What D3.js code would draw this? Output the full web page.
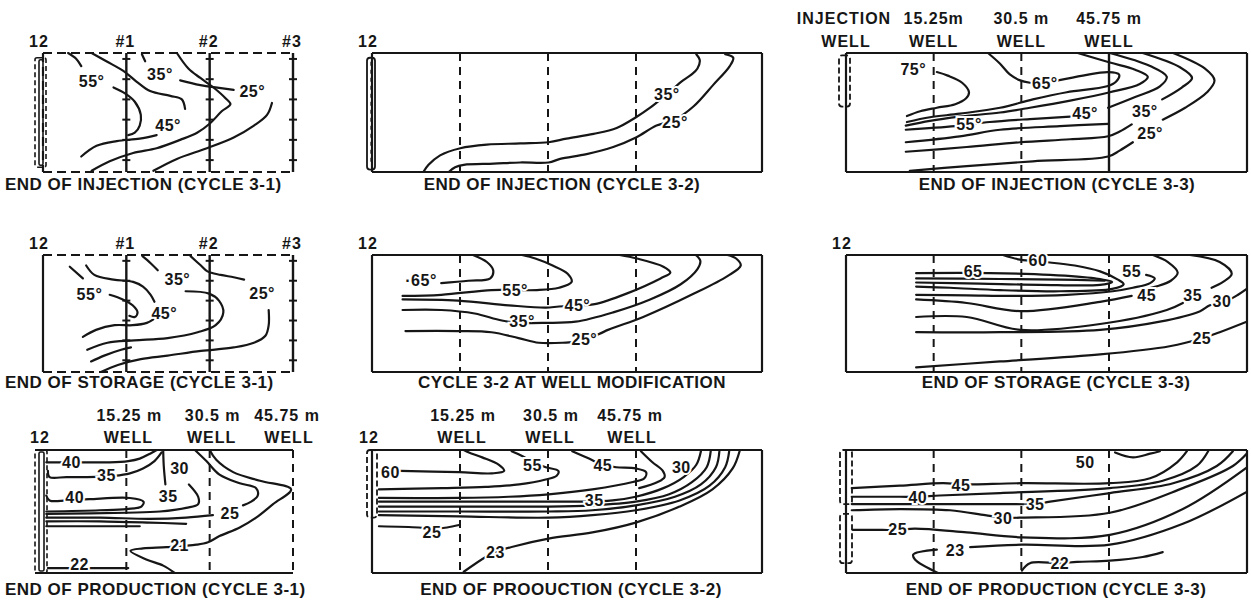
<!DOCTYPE html>
<html>
<head>
<meta charset="utf-8">
<script src="https://cdn.jsdelivr.net/npm/d3@7"></script>
<style>
  body { margin: 0; background: #fff; }
  svg text { font-family: "Liberation Sans", Arial, sans-serif; font-weight: bold; fill: #161616; }
</style>
</head>
<body>
<svg id="fig" width="1251" height="602"></svg>
<script>
// ---- Well layout (distance from the injection well, m) and header text ----
const wellDistancesM = [15.25, 30.5, 45.75];
const wellNumbers = ["#1", "#2", "#3"];
const wellDistanceText = ["15.25 m", "30.5 m", "45.75 m"];
const wellDistanceTextTop = ["15.25m", "30.5 m", "45.75 m"];
const wellWord = "WELL";
const injectionWord = "INJECTION";
const injectionWellTag = "12";
const wellTickDepths = [0.05, 0.22, 0.39, 0.56, 0.73, 0.9];

const panelTitles = [
  "END OF INJECTION (CYCLE 3-1)", "END OF INJECTION (CYCLE 3-2)", "END OF INJECTION (CYCLE 3-3)",
  "END OF STORAGE (CYCLE 3-1)", "CYCLE 3-2 AT WELL MODIFICATION", "END OF STORAGE (CYCLE 3-3)",
  "END OF PRODUCTION (CYCLE 3-1)", "END OF PROOUCTION (CYCLE 3-2)", "END OF PRODUCTION (CYCLE 3-3)"
];

// ---- Isotherms: [distance m, relative depth 0 = top .. 1 = bottom] ----
const inj31Contours = [
  [[4.6,0],[6.1,0.05],[7.0,0.11]],
  [[8.9,0],[11.6,0.07],[14.7,0.15],[17.1,0.24],[19.6,0.32],[23.3,0.36],[25.4,0.39],[26.0,0.47]],
  [[12.9,0.29],[15.0,0.34],[16.8,0.41],[17.9,0.52],[17.7,0.61],[16.8,0.67],[15.6,0.69]],
  [[18.1,0.01],[18.7,0.07]],
  [[24.5,0],[26.6,0.13],[28.8,0.21],[31.2,0.29],[33.4,0.38],[34.3,0.43],[32.7,0.49],[30.6,0.59],[28.2,0.67],[25.1,0.73],[20.8,0.80],[16.5,0.84],[12.2,0.91],[8.9,0.99]],
  [[7.0,0.87],[9.8,0.78],[13.5,0.74],[17.7,0.72],[20.8,0.69]],
  [[25.1,0.23],[28.8,0.27],[34.9,0.31]],
  [[20.2,0.99],[24.5,0.89],[30.0,0.80],[34.9,0.71],[38.6,0.61],[41.0,0.52],[41.9,0.42]]
];
const inj31Labels = [["55°",8.9,0.24],["35°",21.4,0.18],["45°",22.9,0.61],["25°",38.3,0.32]];

const inj32Contours = [
  [[56.2,0.01],[56.8,0.06],[56.4,0.13],[55.4,0.18],[53.9,0.23],[51.0,0.35],[48.2,0.46],[45.75,0.54],[42.4,0.63],[38.4,0.68],[33.7,0.72],[30.6,0.75],[25.7,0.76],[19.9,0.77],[15.3,0.80],[11.8,0.86],[9.8,0.94],[8.9,1.0]],
  [[61.2,0.01],[62.6,0.04],[62.0,0.11],[59.1,0.27],[55.7,0.45],[52.5,0.56],[49.3,0.61],[45.75,0.71],[41.8,0.79],[37.2,0.85],[32.6,0.89],[30.6,0.92],[25.7,0.92],[21.1,0.93],[15.9,0.94],[14.4,0.96],[13.3,1.0]]
];
const inj32Labels = [["35°",51.1,0.35],["25°",52.5,0.58]];

const inj33Contours = [
  [[15.8,0.16],[17.7,0.19],[20.2,0.25],[21.4,0.33],[20.9,0.38],[19.0,0.43],[15.8,0.46],[12.9,0.49],[10.6,0.53]],
  [[24.7,0],[26.8,0.09],[28.5,0.18],[30.3,0.23],[32.0,0.25]],
  [[36.9,0.23],[41.2,0.19],[45.6,0.16],[47.5,0.18],[47.0,0.24],[45.4,0.28],[38.4,0.33],[32.5,0.39],[26.8,0.46],[19.8,0.51],[14.6,0.54],[10.6,0.58]],
  [[40.3,0],[45.9,0.08],[50.3,0.14],[52.5,0.2],[51.1,0.26],[45.9,0.33],[39.0,0.40],[32.0,0.46],[26.8,0.50],[19.8,0.535],[14.6,0.57],[10.4,0.61]],
  [[10.4,0.645],[19.0,0.615],[25.0,0.58],[32.0,0.555],[39.0,0.535]],
  [[45.9,0],[52.9,0.11],[55.8,0.2],[54.6,0.28],[50.3,0.37],[45.6,0.46]],
  [[51.6,0],[58.1,0.12],[60.2,0.21],[58.4,0.29],[55.0,0.39]],
  [[56.9,0],[62.4,0.13],[64.1,0.23],[62.8,0.33],[59.0,0.46],[55.1,0.56]],
  [[10.4,0.75],[19.8,0.70],[26.8,0.645],[37.2,0.615],[45.6,0.595]],
  [[10.4,0.83],[21.0,0.79],[30.3,0.75],[39.0,0.725],[45.6,0.70],[47.6,0.66],[49.7,0.60]],
  [[11.1,0.99],[21.0,0.95],[32.5,0.91],[45.6,0.87],[47.6,0.82],[49.9,0.75]]
];
const inj33Labels = [["75°",11.7,0.14],["65°",34.6,0.26],["55°",21.4,0.6],["45°",41.6,0.51],["35°",52.0,0.49],["25°",52.9,0.68]];

const sto31Contours = [
  [[4.9,0.10],[7.3,0.20]],
  [[7.9,0.09],[9.4,0.17],[12.9,0.21],[16.5,0.23],[18.3,0.27],[19.7,0.34],[20.4,0.40]],
  [[12.2,0.34],[14.6,0.38],[16.4,0.43],[17.3,0.49],[16.8,0.53],[15.8,0.52]],
  [[18.2,0.01],[19.7,0.07],[21.0,0.13]],
  [[27.0,0.01],[28.9,0.09],[30.1,0.14],[32.5,0.17],[34.9,0.19],[36.8,0.21]],
  [[7.3,0.70],[9.7,0.64],[13.1,0.60],[16.4,0.60],[19.0,0.58],[20.2,0.55]],
  [[8.1,0.81],[11.8,0.75],[16.7,0.73],[22.8,0.71],[28.3,0.66],[31.6,0.60],[33.0,0.49],[32.2,0.39],[30.4,0.33],[26.1,0.31]],
  [[8.8,0.91],[11.2,0.86],[14.3,0.81],[16.1,0.79]],
  [[10.6,1.0],[13.7,0.94],[17.9,0.89],[22.8,0.86],[28.9,0.82],[34.9,0.79],[38.6,0.75],[40.7,0.69],[41.3,0.60],[41.3,0.47]]
];
const sto31Labels = [["55°",8.5,0.34],["35°",24.6,0.21],["45°",22.2,0.50],["25°",40.1,0.33]];

const mod32Contours = [
  [[12.0,0.24],[16.7,0.22],[20.5,0.20],[21.0,0.13],[19.9,0.06],[17.5,0]],
  [[5.3,0.35],[12.0,0.34],[20.7,0.30],[24.8,0.30],[28.6,0.30],[32.4,0.28],[34.6,0.23],[33.9,0.16],[31.3,0.09],[28.3,0.03],[26.0,0]],
  [[5.3,0.38],[14.9,0.39],[23.7,0.43],[30.1,0.45],[32.4,0.44],[35.6,0.43],[38.6,0.42],[44.1,0.33],[50.0,0.20],[51.7,0.15],[50.5,0.10],[45.9,0.03],[42.9,0]],
  [[5.3,0.47],[12.0,0.47],[17.8,0.50],[22.5,0.56],[26.0,0.58],[30.1,0.58],[35.3,0.57],[41.8,0.49],[48.2,0.38],[53.5,0.25],[56.4,0.12],[56.9,0.05],[56.1,0]],
  [[5.8,0.65],[14.9,0.65],[20.7,0.66],[25.4,0.71],[28.9,0.75],[33.0,0.75],[36.8,0.73],[40.9,0.64],[47.0,0.53],[55.8,0.33],[61.6,0.18],[63.9,0.09],[63.1,0.03],[61.6,0]]
];
const mod32Labels = [["·65°",8.5,0.22],["55°",24.8,0.30],["45°",35.6,0.43],["35°",26.0,0.57],["25°",36.8,0.72]];

const sto33Contours = [
  [[12.2,0.155],[25.0,0.155],[35.5,0.17],[43.3,0.20],[46.3,0.23],[44.2,0.255],[33.7,0.255],[23.3,0.245],[12.2,0.235]],
  [[12.2,0.20],[26.8,0.205],[37.2,0.21],[45.0,0.22]],
  [[27.3,0],[30.3,0.04],[34.6,0.06],[39.8,0.09],[44.2,0.14],[47.3,0.21],[48.3,0.25],[46.3,0.29],[37.2,0.31],[26.8,0.30],[18.1,0.28],[12.2,0.27]],
  [[52.2,0.17],[53.7,0.20],[52.9,0.24],[49.9,0.28],[46.4,0.31],[38.4,0.34],[29.7,0.35],[21.0,0.345],[12.2,0.34]],
  [[12.2,0.38],[21.0,0.41],[30.3,0.48],[44.2,0.40],[49.7,0.35]],
  [[53.4,0],[56.0,0.06],[57.7,0.15],[56.5,0.22],[53.9,0.27],[51.5,0.30]],
  [[12.2,0.53],[21.0,0.53],[30.3,0.64],[44.2,0.59],[55.8,0.47],[58.6,0.41]],
  [[59.8,0],[65.0,0.06],[67.1,0.16],[65.6,0.23],[63.6,0.28]],
  [[12.2,0.66],[26.8,0.66],[44.2,0.64],[54.6,0.57],[61.6,0.48],[63.3,0.43],[65.9,0.40],[68.2,0.34],[69.7,0.29]],
  [[12.2,0.96],[26.8,0.91],[44.2,0.85],[56.3,0.78],[62.1,0.71],[65.0,0.66],[69.7,0.57]]
];
const sto33Labels = [["65",22.1,0.145],["60",33.4,0.05],["55",49.7,0.14],["45",52.3,0.35],["35",60.3,0.35],["30",65.4,0.40],["25",61.9,0.71]];

const pro31Contours = [
  [[0.6,0.10],[2.7,0.10],[7.6,0.10],[12.2,0.10],[15.6,0.09],[17.7,0.07],[19.6,0.03],[20.8,0]],
  [[0.9,0.17],[1.2,0.22],[4.3,0.22],[7.9,0.22],[13.1,0.21],[15.9,0.19],[18.3,0.15],[20.4,0.09],[21.7,0.02]],
  [[22.0,0.01],[22.1,0.13],[22.4,0.28]],
  [[27.8,0],[29.9,0.09],[32.3,0.20],[36.0,0.27],[39.0,0.31],[39.3,0.37],[38.1,0.42],[36.6,0.45]],
  [[30.5,0],[31.7,0.08],[34.8,0.18],[39.7,0.25],[45.4,0.32],[42.1,0.44],[39.0,0.55],[36.0,0.63],[32.3,0.70],[30.2,0.75],[28.1,0.77],[22.6,0.79],[18.3,0.80],[16.0,0.82],[18.9,0.89],[22.0,0.94],[24.1,1.0]],
  [[0.6,0.37],[1.2,0.41],[4.3,0.41],[8.5,0.40],[15.9,0.39],[18.4,0.42],[18.0,0.46],[15.3,0.48],[10.4,0.49],[0.6,0.50]],
  [[26.7,0.28],[28.4,0.38],[28.4,0.44],[26.2,0.47],[21.4,0.50],[15.3,0.51],[0.6,0.52]],
  [[0.6,0.55],[10.4,0.55],[19.5,0.56],[26.2,0.55],[31.1,0.53]],
  [[0.6,0.58],[10.4,0.58],[19.5,0.59],[26.2,0.60]],
  [[0.6,0.62],[10.4,0.62],[17.7,0.62]],
  [[0.9,0.96],[4.3,0.96],[9.2,0.96],[15.6,0.96]]
];
const pro31Labels = [["40",5.2,0.10],["35",11.6,0.21],["30",25.0,0.15],["40",5.8,0.39],["35",22.9,0.38],["25",34.2,0.52],["21",25.0,0.78],["22",6.7,0.93]];

const pro32Contours = [
  [[4.9,0.17],[15.1,0.18],[20.8,0.19],[22.9,0.17],[22.0,0.12],[19.1,0.06],[16.8,0.02],[15.9,0]],
  [[24.2,0.01],[26.1,0.05],[28.0,0.10],[30.1,0.14],[32.3,0.17],[32.0,0.21],[30.1,0.24],[25.5,0.28],[19.7,0.30],[12.2,0.31],[1.2,0.32]],
  [[34.7,0.01],[37.6,0.07],[40.0,0.12],[42.3,0.14],[45.7,0.15],[47.5,0.18],[47.2,0.23],[45.2,0.26],[38.2,0.32],[30.6,0.36],[23.7,0.38],[15.1,0.39],[1.2,0.39]],
  [[46.6,0.01],[48.6,0.10],[50.4,0.17],[50.7,0.22],[49.5,0.26],[46.3,0.31]],
  [[1.2,0.42],[15.1,0.42],[30.6,0.42],[35.3,0.42],[41.7,0.41],[45.7,0.38],[50.5,0.31],[54.0,0.22],[56.2,0.12],[57.0,0.01]],
  [[1.2,0.46],[15.1,0.46],[30.6,0.46],[38.2,0.45],[45.7,0.42],[51.5,0.36],[55.5,0.26],[58.0,0.14],[58.7,0.01]],
  [[1.2,0.50],[15.1,0.50],[30.6,0.50],[38.2,0.49],[45.7,0.45],[52.5,0.38],[57.0,0.28],[59.6,0.14],[60.2,0.01]],
  [[1.2,0.53],[15.1,0.54],[30.6,0.55],[38.2,0.53],[45.7,0.49],[53.3,0.41],[58.5,0.29],[61.2,0.14],[61.9,0.01]],
  [[63.7,0.01],[62.5,0.15],[59.0,0.32],[53.3,0.46],[45.7,0.59],[38.2,0.67],[30.6,0.72],[24.9,0.78],[21.4,0.83],[19.7,0.87],[15.9,0.99]],
  [[1.2,0.62],[8.1,0.63],[10.4,0.64],[13.0,0.63],[15.1,0.61]]
];
const pro32Labels = [["60",3.2,0.18],["55",27.8,0.13],["45",40.0,0.13],["30",53.6,0.14],["35",38.5,0.41],["25",10.4,0.67],["23",21.4,0.83]];

const pro33Contours = [
  [[1.0,0.31],[9.4,0.29],[16.9,0.27],[20.2,0.28],[22.4,0.28],[30.6,0.27],[45.9,0.27],[52.9,0.23],[57.6,0.10],[59.3,0.01]],
  [[1.0,0.38],[9.4,0.38],[12.5,0.38],[16.3,0.37],[26.8,0.35],[45.9,0.31],[55.1,0.25],[61.0,0.13],[63.0,0.01]],
  [[1.0,0.44],[9.4,0.44],[29.4,0.44],[32.9,0.44],[35.5,0.42],[45.9,0.35],[56.9,0.27],[64.5,0.13],[67.3,0.01]],
  [[1.0,0.49],[9.4,0.48],[18.1,0.49],[24.2,0.53],[27.3,0.55],[30.6,0.55],[45.9,0.51],[58.6,0.31],[67.3,0.13],[70.1,0.01]],
  [[1.2,0.65],[6.3,0.65],[9.0,0.65],[12.0,0.64],[21.0,0.67],[30.6,0.71],[45.9,0.69],[58.6,0.48],[70.1,0.13]],
  [[21.6,0.79],[30.6,0.77],[45.9,0.77],[58.6,0.60],[70.1,0.33]],
  [[15.8,0.81],[11.7,0.85],[12.0,0.89],[16.0,1.0]],
  [[30.6,0.98],[32.0,0.92],[37.2,0.92],[40.2,0.91],[45.9,0.90],[51.6,0.87],[55.1,0.83]],
  [[46.8,0.02],[49.9,0.06],[52.9,0.03],[54.6,0.01]]
];
const pro33Labels = [["50",41.6,0.10],["45",20.0,0.29],["40",12.5,0.39],["35",32.9,0.44],["30",27.3,0.56],["25",9.0,0.65],["23",19.0,0.82],["22",37.2,0.92]];

// ---- Page layout (pixels) ----
const columns = [
  {left: 43, well3: 293, right: 293},
  {left: 372, well3: 636, right: 762},
  {left: 846, well3: 1109, right: 1247}
];
const rows = [
  {top: 53, bottom: 172, title: 190},
  {top: 255, bottom: 372, title: 388},
  {top: 450, bottom: 573, title: 595}
];

const panels = [
  {col: 0, row: 0, title: panelTitles[0], titleX: 5, titleAnchor: "start", lines: inj31Contours, labels: inj31Labels,
   frame: {top: "dashed", bottom: "dashed", left: "dashed", right: null, wells: ["solid", "solid", "solid"], ticks: true},
   icon: {dx: [-8, 3], spans: [[0.04, 0.96]], kind: "double"}, header: "numbers"},
  {col: 1, row: 0, title: panelTitles[1], titleX: 562, lines: inj32Contours, labels: inj32Labels,
   frame: {top: "solid", bottom: "solid", left: "solid", right: "solid", wells: ["dashed", "dashed", "dashed"]},
   icon: {dx: [-5, 3], spans: [[0.04, 0.98]], kind: "solid"}, header: "tag"},
  {col: 2, row: 0, title: panelTitles[2], titleX: 1057, lines: inj33Contours, labels: inj33Labels,
   frame: {top: "solid", bottom: "solid", left: "solid", right: "solid", wells: ["dashed", "dashed", "solid"]},
   icon: {dx: [-7, 4], spans: [[0.02, 0.45]], kind: "dashed"}, header: "injection"},
  {col: 0, row: 1, title: panelTitles[3], titleX: 5, titleAnchor: "start", lines: sto31Contours, labels: sto31Labels,
   frame: {top: "dashed", bottom: "dashed", left: "solid", right: null, wells: ["solid", "solid", "solid"], ticks: true},
   icon: null, header: "numbers"},
  {col: 1, row: 1, title: panelTitles[4], titleX: 572, lines: mod32Contours, labels: mod32Labels,
   frame: {top: "solid", bottom: "solid", left: "solid", right: "solid", wells: ["dashed", "dashed", "dashed"]},
   icon: null, header: "tag"},
  {col: 2, row: 1, title: panelTitles[5], titleX: 1056, lines: sto33Contours, labels: sto33Labels,
   frame: {top: "solid", bottom: "solid", left: "solid", right: "solid", wells: ["dashed", "dashed", "dashed"]},
   icon: null, header: "tag"},
  {col: 0, row: 2, title: panelTitles[6], titleX: 5, titleAnchor: "start", lines: pro31Contours, labels: pro31Labels,
   frame: {top: "solid", bottom: "solid", left: null, right: null, wells: ["dashed", "dashed", "dashed"]},
   icon: {dx: [-8, 4], spans: [[0, 1]], kind: "double"}, header: "distances"},
  {col: 1, row: 2, title: panelTitles[7], titleX: 571, lines: pro32Contours, labels: pro32Labels,
   frame: {top: "solid", bottom: "solid", left: "solid", right: "solid", wells: ["dashed", "dashed", "dashed"]},
   icon: {dx: [-5, 5], spans: [[0, 0.55]], kind: "dashed"}, header: "distances"},
  {col: 2, row: 2, title: panelTitles[8], titleX: 1056, lines: pro33Contours, labels: pro33Labels,
   frame: {top: "solid", bottom: "solid", left: "solid", right: "solid", wells: ["dashed", "dashed", "dashed"]},
   icon: {dx: [-6, 6], spans: [[0, 0.44], [0.52, 0.92]], kind: "dashed"}, header: null}
];

const INK = "#161616";
const svg = d3.select("#fig");
const dashFor = s => s === "dashed" ? "9,5" : null;

panels.forEach((p, i) => {
  const c = columns[p.col], r = rows[p.row];
  const x = d3.scaleLinear().domain([0, wellDistancesM[2]]).range([c.left, c.well3]);
  const y = d3.scaleLinear().domain([0, 1]).range([r.top, r.bottom]);
  const xMax = x.invert(c.right);
  const g = svg.append("g");

  // clip region for the isotherms
  const clipId = "clip" + i;
  svg.append("clipPath").attr("id", clipId).append("rect")
    .attr("x", x(0)).attr("y", y(0) - 1)
    .attr("width", x(xMax) - x(0)).attr("height", y(1) - y(0) + 2);

  // frame
  const edge = (x1, y1, x2, y2, style, w) => {
    if (!style) return;
    g.append("line").attr("x1", x1).attr("y1", y1).attr("x2", x2).attr("y2", y2)
      .attr("stroke", INK).attr("stroke-width", w || 2.2)
      .attr("stroke-dasharray", dashFor(style));
  };
  const leftEdge = p.icon && !p.frame.left ? x(0) + p.icon.dx[0] : x(0);
  edge(leftEdge, y(0), x(xMax), y(0), p.frame.top);
  edge(leftEdge, y(1), x(xMax), y(1), p.frame.bottom);
  edge(x(0), y(0), x(0), y(1), p.frame.left);
  edge(x(xMax), y(0), x(xMax), y(1), p.frame.right);

  // observation wells
  wellDistancesM.forEach((d, k) => {
    const st = p.frame.wells[k];
    g.append("line").attr("x1", x(d)).attr("x2", x(d)).attr("y1", y(0)).attr("y2", y(1))
      .attr("stroke", INK).attr("stroke-width", st === "solid" ? 2.4 : 2)
      .attr("stroke-dasharray", st === "dashed" ? "8,6" : null);
    if (p.frame.ticks) {
      wellTickDepths.forEach(t => {
        g.append("line").attr("x1", x(d) - 4).attr("x2", x(d) + 4)
          .attr("y1", y(t)).attr("y2", y(t))
          .attr("stroke", INK).attr("stroke-width", 2);
      });
    }
  });

  // injection well
  if (p.icon) {
    const ix0 = x(0) + p.icon.dx[0], ix1 = x(0) + p.icon.dx[1];
    p.icon.spans.forEach(s => {
      const y0 = y(s[0]), y1 = y(s[1]);
      if (p.icon.kind === "double") {
        g.append("rect").attr("x", ix0).attr("y", y0).attr("width", ix1 - ix0).attr("height", y1 - y0)
          .attr("rx", 2).attr("fill", "none").attr("stroke", INK).attr("stroke-width", 1.6)
          .attr("stroke-dasharray", "5,3");
        g.append("rect").attr("x", ix0 + 4).attr("y", y0 + 2).attr("width", ix1 - ix0 - 7).attr("height", y1 - y0 - 4)
          .attr("rx", 1.5).attr("fill", "none").attr("stroke", INK).attr("stroke-width", 1.6);
      } else if (p.icon.kind === "solid") {
        g.append("rect").attr("x", ix0).attr("y", y0).attr("width", ix1 - ix0).attr("height", y1 - y0)
          .attr("rx", 3).attr("fill", "none").attr("stroke", INK).attr("stroke-width", 1.8);
        g.append("line").attr("x1", (ix0 + ix1) / 2).attr("x2", (ix0 + ix1) / 2)
          .attr("y1", y0 + 4).attr("y2", y1 - 4)
          .attr("stroke", INK).attr("stroke-width", 1.2).attr("stroke-dasharray", "4,4");
      } else {
        g.append("rect").attr("x", ix0).attr("y", y0).attr("width", ix1 - ix0).attr("height", y1 - y0)
          .attr("rx", 3).attr("fill", "none").attr("stroke", INK).attr("stroke-width", 1.8)
          .attr("stroke-dasharray", "6,3");
      }
    });
  }

  // isotherms
  const line = d3.line().x(d => x(d[0])).y(d => y(d[1])).curve(d3.curveCatmullRom.alpha(0.5));
  g.append("g").attr("clip-path", `url(#${clipId})`)
    .selectAll("path").data(p.lines).join("path")
    .attr("d", line).attr("fill", "none").attr("stroke", INK)
    .attr("stroke-width", 2.2).attr("stroke-linecap", "round").attr("stroke-linejoin", "round");

  // isotherm values
  g.selectAll("text.val").data(p.labels).join("text").attr("class", "val")
    .attr("x", d => x(d[1])).attr("y", d => y(d[2]))
    .attr("text-anchor", "middle").attr("dominant-baseline", "central")
    .attr("font-size", 16).attr("letter-spacing", 0.5)
    .attr("stroke", "#fff").attr("stroke-width", 4).attr("paint-order", "stroke")
    .text(d => d[0]);

  // headers
  const hdr = (txt, hx, hy) => g.append("text").attr("x", hx).attr("y", hy)
    .attr("text-anchor", "middle").attr("font-size", 16).attr("letter-spacing", 1).text(txt);
  const tagY = r.top - 6;
  if (p.header === "numbers") {
    hdr(injectionWellTag, x(0) - 4, tagY);
    wellDistancesM.forEach((d, k) => hdr(wellNumbers[k], x(d) - 1, tagY));
  } else if (p.header === "tag") {
    hdr(injectionWellTag, x(0) - 4, tagY);
  } else if (p.header === "distances") {
    hdr(injectionWellTag, x(0) - 3, r.top - 7);
    wellDistancesM.forEach((d, k) => {
      hdr(wellDistanceText[k], x(d) + (k === 2 ? -6 : 3), r.top - 29);
      hdr(wellWord, x(d) + (k === 2 ? -4 : 2), r.top - 7);
    });
  } else if (p.header === "injection") {
    hdr(injectionWord, x(0) - 2, r.top - 29);
    hdr(wellWord, x(0), r.top - 6);
    wellDistancesM.forEach((d, k) => {
      hdr(wellDistanceTextTop[k], x(d), r.top - 29);
      hdr(wellWord, x(d), r.top - 6);
    });
  }

  // panel title
  g.append("text").attr("x", p.titleX).attr("y", r.title)
    .attr("text-anchor", p.titleAnchor || "middle").attr("font-size", 17).attr("letter-spacing", 0.5)
    .text(p.title);
});
</script>
</body>
</html>
